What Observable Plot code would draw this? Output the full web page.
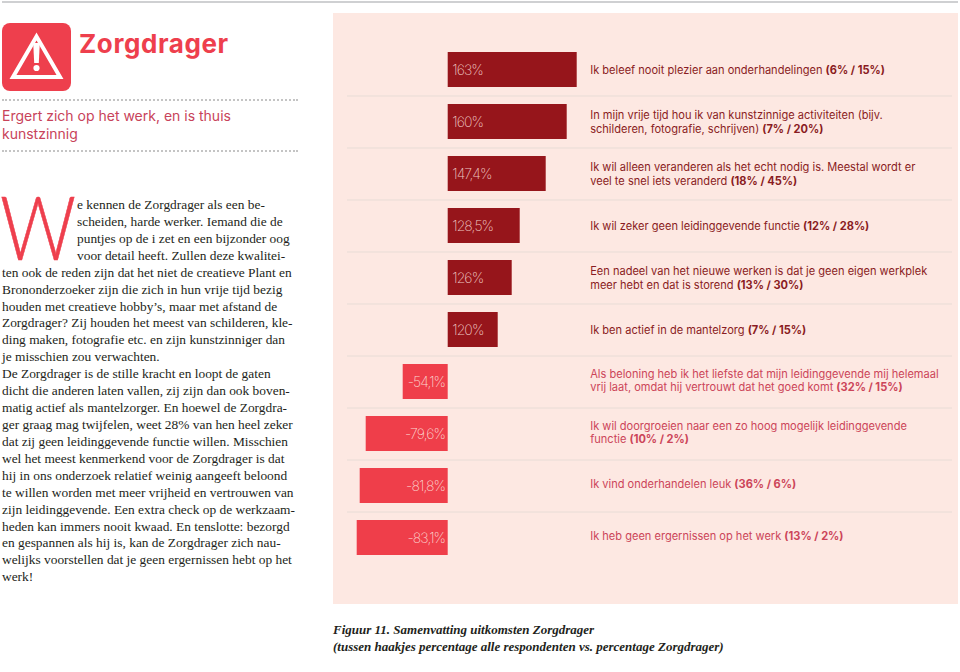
<!DOCTYPE html>
<html lang="nl"><head><meta charset="utf-8">
<script src="https://cdn.jsdelivr.net/npm/d3@7"></script>
<script src="https://cdn.jsdelivr.net/npm/@observablehq/plot@0.6"></script>
<style>
html,body{margin:0;padding:0;background:#fff;width:960px;height:672px;overflow:hidden}
.abs{position:absolute;white-space:nowrap}
#topline{left:2px;top:1px;width:956px;height:2px;background:#cfd0d2}
#panel{left:333px;top:13px;width:625px;height:591px;background:#fde8e2}
#chart{left:0;top:0}
#title{left:79px;top:27px;font:700 26px/34px Inter,sans-serif;color:#ee3f4d;letter-spacing:.6px}
.dots{left:2px;width:296px;height:0;border-top:2px dotted #c4c4c4}
#sub{left:2px;top:107px;font:400 14px/17.5px Inter,sans-serif;color:#c8435a}
#cap{left:333px;top:620.5px;font:italic 700 13px/17px "Liberation Serif",serif;color:#231f20}
#dropcap{left:0;top:194px;font:300 88px/64px Lato,sans-serif;color:#ee3f4d;-webkit-text-stroke:.6px #ee3f4d;transform:scaleX(.85);transform-origin:0 0}
#bodyA{left:77px;top:197px}
#bodyB{left:2px;top:264.7px}
.txt{font:400 13.4px/16.92px "Liberation Serif",serif;color:#231f20}
.pct text{letter-spacing:-.9px}
</style></head><body>
<div class="abs" id="topline"></div>
<div class="abs" id="panel"></div>
<svg class="abs" style="left:2px;top:23px" width="70" height="70" viewBox="0 0 70 70">
<rect x="0" y="0" width="69" height="68" rx="8" fill="#ee3f4d"/>
<path d="M34.5 13.5 L58 54 H11 Z" fill="none" stroke="#fff" stroke-width="4"/>
<path d="M31.2 20 h6.6 l-1 20 h-4.6 Z" fill="#fff"/><circle cx="34.5" cy="45" r="3.1" fill="#fff"/>
</svg>
<div class="abs" id="title">Zorgdrager</div>
<div class="abs dots" style="top:99px"></div>
<div class="abs" id="sub">Ergert zich op het werk, en is thuis<br>kunstzinnig</div>
<div class="abs dots" style="top:150px"></div>
<div class="abs" id="dropcap">W</div>
<div class="abs txt" id="bodyA"></div>
<div class="abs txt" id="bodyB"></div>
<div class="abs" id="cap">Figuur 11. Samenvatting uitkomsten Zorgdrager<br>(tussen haakjes percentage alle respondenten vs. percentage Zorgdrager)</div>
<div class="abs" id="chart"></div>
<script>
const rows = [0,1,2,3,4,5,6,7,8,9];
const barValues = [129,119,98,72,64,50,-45,-82,-88,-91];
const barLabels = ["163%","160%","147,4%","128,5%","126%","120%","-54,1%","-79,6%","-81,8%","-83,1%"];
const statements = [
 "Ik beleef nooit plezier aan onderhandelingen (6% / 15%)",
 "In mijn vrije tijd hou ik van kunstzinnige activiteiten (bijv.\nschilderen, fotografie, schrijven) (7% / 20%)",
 "Ik wil alleen veranderen als het echt nodig is. Meestal wordt er\nveel te snel iets veranderd (18% / 45%)",
 "Ik wil zeker geen leidinggevende functie (12% / 28%)",
 "Een nadeel van het nieuwe werken is dat je geen eigen werkplek\nmeer hebt en dat is storend (13% / 30%)",
 "Ik ben actief in de mantelzorg (7% / 15%)",
 "Als beloning heb ik het liefste dat mijn leidinggevende mij helemaal\nvrij laat, omdat hij vertrouwt dat het goed komt (32% / 15%)",
 "Ik wil doorgroeien naar een zo hoog mogelijk leidinggevende\nfunctie (10% / 2%)",
 "Ik vind onderhandelen leuk (36% / 6%)",
 "Ik heb geen ergernissen op het werk (13% / 2%)"
];
const bodyLines = ["e kennen de Zorgdrager als een be-","scheiden, harde werker. Iemand die de","puntjes op de i zet en een bijzonder oog","voor detail heeft. Zullen deze kwalitei-",
"ten ook de reden zijn dat het niet de creatieve Plant en","Brononderzoeker zijn die zich in hun vrije tijd bezig","houden met creatieve hobby’s, maar met afstand de","Zorgdrager? Zij houden het meest van schilderen, kle-","ding maken, fotografie etc. en zijn kunstzinniger dan","je misschien zou verwachten.","De Zorgdrager is de stille kracht en loopt de gaten","dicht die anderen laten vallen, zij zijn dan ook boven-","matig actief als mantelzorger. En hoewel de Zorgdra-","ger graag mag twijfelen, weet 28% van hen heel zeker","dat zij geen leidinggevende functie willen. Misschien","wel het meest kenmerkend voor de Zorgdrager is dat","hij in ons onderzoek relatief weinig aangeeft beloond","te willen worden met meer vrijheid en vertrouwen van","zijn leidinggevende. Een extra check op de werkzaam-","heden kan immers nooit kwaad. En tenslotte: bezorgd","en gespannen als hij is, kan de Zorgdrager zich nau-","welijks voorstellen dat je geen ergernissen hebt op het","werk!"];
document.getElementById("bodyA").innerHTML = bodyLines.slice(0,4).join("<br>");
document.getElementById("bodyB").innerHTML = bodyLines.slice(4).join("<br>");

const DARK="#96151b", RED="#ef3e4a";
const isPos = i => barValues[i] > 0;
const pos = rows.filter(isPos), neg = rows.filter(i=>!isPos(i));
const svg = Plot.plot({
  width:960, height:672, marginLeft:347, marginRight:8, marginTop:0, marginBottom:0,
  style:{background:"transparent"},
  x:{axis:null, domain:[-100.7,504.3]},
  y:{axis:null, type:"band", domain:rows, range:[52,555], paddingInner:0.327, paddingOuter:0, round:false},
  marks:[
    Plot.ruleY(rows.slice(0,9),{y:d=>d, dy:26, stroke:"#e8dcd6", strokeWidth:1}),
    Plot.barX(rows,{y:d=>d, x:i=>barValues[i], fill:i=>isPos(i)?DARK:RED, inset:0}),
    Plot.text(pos,{y:d=>d, x:0, dx:4, dy:1, text:i=>barLabels[i], textAnchor:"start", fill:"#eec6c1", fontSize:14, fontWeight:200, fontFamily:"Inter", className:"pct"}),
    Plot.text(neg,{y:d=>d, x:0, dx:-3, dy:1, text:i=>barLabels[i], textAnchor:"end", fill:"#fbd5cf", fontSize:14, fontWeight:200, fontFamily:"Inter", className:"pct"}),
    Plot.text(pos,{y:d=>d, x:142, dy:-0.5, text:i=>statements[i], textAnchor:"start", lineHeight:1.22, fill:"#8a1c22", fontSize:11.05, fontFamily:"Inter", className:"stmt"}),
    Plot.text(neg,{y:d=>d, x:142, dy:-2, text:i=>statements[i], textAnchor:"start", lineHeight:1.22, fill:"#cc4559", fontSize:11.05, fontFamily:"Inter", className:"stmt"})
  ]
});
// pairs between brackets are set in bold inside the same text element
d3.select(svg).selectAll(".stmt text").each(function(){
  const host = this.querySelector("tspan:last-child") || this;
  const m = host.textContent.match(/^(.*)(\(\d+% \/ \d+%\))$/);
  if(!m) return;
  host.textContent = m[1];
  d3.select(host).append("tspan").attr("font-weight",700).text(m[2]);
});
document.getElementById("chart").append(svg);
</script>
</body></html>
